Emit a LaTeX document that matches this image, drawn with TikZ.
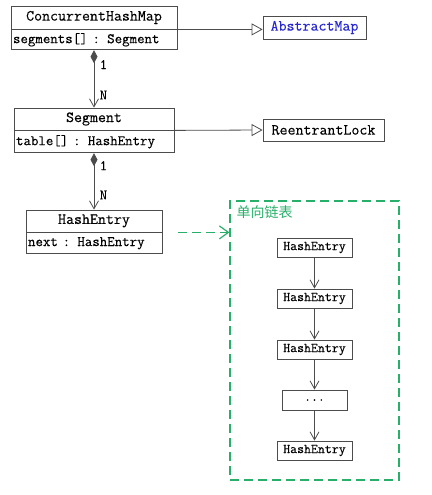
\documentclass[tikz,border=0pt]{standalone}
\usepackage{fontspec}
\newfontfamily\cjk{Noto Sans CJK SC}
\newfontfamily\codefont[FakeBold=0.25]{Latin Modern Mono}
\usetikzlibrary{arrows.meta,positioning}

\definecolor{listgreen}{RGB}{40,175,105}
\definecolor{absblue}{RGB}{40,40,210}

\tikzset{
	head/.style={draw=black!70, line width=0.8pt, inner sep=0pt, font=\codefont\fontsize{15.5}{17}\selectfont},
	body/.style={draw=black!70, line width=0.8pt, inner sep=2pt, align=left, font=\codefont\fontsize{14.5}{16}\selectfont},
	item/.style={draw=black!70, line width=0.8pt, inner sep=0pt, minimum width=75pt, minimum height=19pt, font=\codefont\fontsize{13.5}{15}\selectfont},
	link/.style={draw=black!70, line width=0.8pt, font=\codefont\fontsize{14.5}{16}\selectfont},
	comp/.style={link, {Diamond[length=13pt,width=7pt]}-{Straight Barb[length=8pt,width=9pt]}},
	gen/.style={link, -{Triangle[open,length=11pt,width=12pt]}},
	nextarrow/.style={link, -{Straight Barb[length=8pt,width=9pt]}},
	group/.style={draw=listgreen, line width=1.2pt, dash pattern=on 9pt off 5pt},
}

\begin{document}
\begin{tikzpicture}[x=1pt,y=-1pt]
	\useasboundingbox (0,0) rectangle (431,495);

	% classes
	\draw (94,17.5) node [head, minimum width=166pt, minimum height=23pt] (chm) {ConcurrentHashMap};
	\node [body, text width=162pt, minimum height=20pt, below=0pt of chm] (chmb) {segments[] : Segment};
	\draw (94,119) node [head, minimum width=160pt, minimum height=22pt] (seg) {Segment};
	\node [body, text width=156pt, minimum height=22pt, below=0pt of seg] (segb) {table[] : HashEntry};
	\draw (94,221) node [head, minimum width=136pt, minimum height=22pt] (he) {HashEntry};
	\node [body, text width=132pt, minimum height=21pt, below=0pt of he] (heb) {next : HashEntry};

	\draw (314.5,27.5) node [head, minimum width=103pt, minimum height=23pt, text=absblue] (abs) {AbstractMap};
	\draw (323.5,130) node [head, minimum width=121pt, minimum height=22pt] (lock) {ReentrantLock};

	\draw[gen] (chm.south east) -- (chm.south east -| abs.west);
	\draw[gen] (seg.south east) -- (lock.west);

	\draw[comp] (chmb.south) -- node [pos=0.25, right=2pt] {1} node [pos=0.78, right=2pt] {N} (seg.north);
	\draw[comp] (segb.south) -- node [pos=0.22, right=2pt] {1} node [pos=0.74, right=2pt] {N} (he.north);

	% linked list
	\draw (314.5,340.5) node [group, minimum width=169pt, minimum height=279pt] (list) {};
	\node [anchor=north west, inner sep=0pt, text=listgreen, font=\cjk\fontsize{14}{16}\selectfont] (listname) at ([xshift=7pt,yshift=-5pt]list.north west) {单向链表};
	\draw[group, -{Straight Barb[length=9pt,width=13pt]}] ([xshift=16pt]he.south east) -- (he.south east -| list.west);

	\draw (314.5,247.5) node [item] (e1) {HashEntry};
	\draw (314.5,298.5) node [item] (e2) {HashEntry};
	\draw (314.5,349.5) node [item] (e3) {HashEntry};
	\draw (314.5,400) node [item, minimum width=65pt, minimum height=20pt] (e4) {...};
	\draw (314.5,450.5) node [item] (e5) {HashEntry};

	\draw[nextarrow]
		(e1) edge (e2)
		(e2) edge (e3)
		(e3) edge (e4)
		(e4) edge (e5)
	;
\end{tikzpicture}
\end{document}
